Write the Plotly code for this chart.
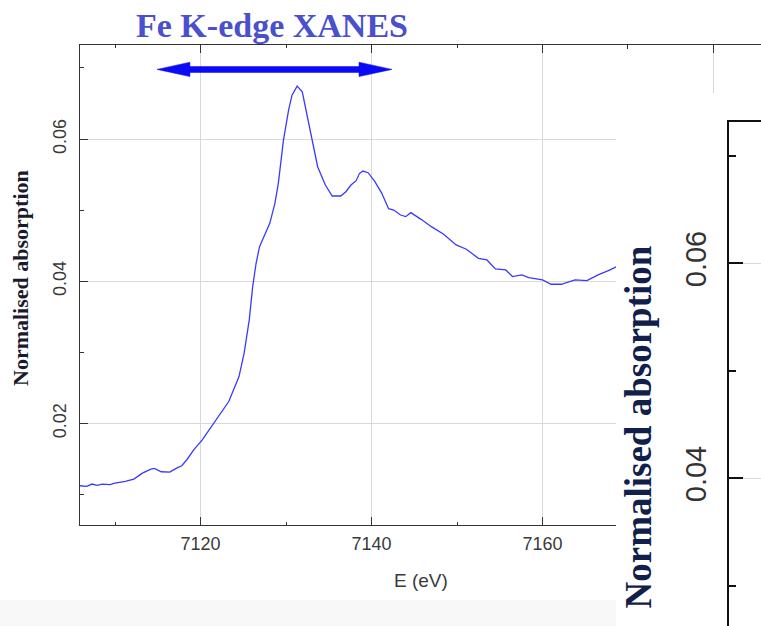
import plotly.graph_objects as go

W, H = 761, 626

# ---- data ----
energy_ev = [7105.9, 7106.7, 7107.3, 7107.9, 7108.5, 7109.4, 7110.0, 7111.2, 7112.2, 7113.2,
             7114.2, 7114.6, 7115.4, 7116.4, 7117.2, 7117.8, 7118.4, 7119.2, 7120.2, 7121.0,
             7122.1, 7123.3, 7124.5, 7125.1, 7125.7, 7126.1, 7126.5, 7126.9, 7127.5, 7128.1,
             7128.7, 7129.1, 7129.7, 7130.3, 7130.7, 7131.3, 7131.9, 7132.5, 7133.1, 7133.7,
             7134.6, 7135.4, 7136.4, 7137.0, 7137.6, 7138.2, 7138.6, 7139.0, 7139.6, 7140.4,
             7141.2, 7142.0, 7142.6, 7143.4, 7144.0, 7144.6, 7145.8, 7147.0, 7148.4, 7149.9,
             7151.1, 7152.5, 7153.5, 7154.5, 7155.7, 7156.5, 7157.6, 7158.4, 7160.0, 7161.0,
             7162.2, 7163.8, 7165.2, 7166.5, 7167.7, 7168.7]
absorption = [0.01124, 0.01115, 0.01148, 0.01130, 0.01148, 0.01140, 0.01162, 0.01185, 0.01218, 0.01302,
              0.01358, 0.01368, 0.01321, 0.01316, 0.01372, 0.01405, 0.01490, 0.01630, 0.01770, 0.01911,
              0.02089, 0.02309, 0.02660, 0.02988, 0.03457, 0.03925, 0.04253, 0.04487, 0.04651, 0.04815,
              0.05096, 0.05377, 0.05986, 0.06407, 0.06618, 0.06745, 0.06665, 0.06314, 0.05986, 0.05611,
              0.05354, 0.05199, 0.05199, 0.05260, 0.05354, 0.05415, 0.05518, 0.05550, 0.05527, 0.05400,
              0.05237, 0.05021, 0.05002, 0.04932, 0.04909, 0.04965, 0.04871, 0.04768, 0.04665, 0.04511,
              0.04450, 0.04323, 0.04300, 0.04173, 0.04159, 0.04066, 0.04089, 0.04052, 0.04019, 0.03958,
              0.03958, 0.04019, 0.04010, 0.04089, 0.04150, 0.04206]

title_text = "Fe K-edge XANES"
y_title = "Normalised absorption"
x_title = "E (eV)"

arrow_e = [7114.9, 7142.4]
arrow_mu = 0.0698

x_range_main = [7105.9, 7168.6]
x_range_strip = [7168.6, 7185.55]
y_range_main = [0.00572, 0.07323]
y_range_strip = [0.06648, 0.07323]
y_range_right = [0.02626, 0.073144]


def fx(px):
    return px / W


def fy(py):
    return 1 - py / H


AX = "#333333"
GRID = "#d9d9d9"
TICKFONT = dict(family="Liberation Sans", size=18, color="#3a3a3a")

fig = go.Figure()
fig.add_trace(go.Scatter(x=energy_ev, y=absorption, mode="lines",
                         line=dict(color="#3a3aff", width=1.3),
                         xaxis="x", yaxis="y", showlegend=False, hoverinfo="skip"))
fig.add_trace(go.Scatter(x=[], y=[], xaxis="x2", yaxis="y2", showlegend=False))
fig.add_trace(go.Scatter(x=[], y=[], xaxis="x3", yaxis="y3", showlegend=False))

fig.update_layout(
    width=W, height=H,
    margin=dict(l=0, r=0, t=0, b=0),
    paper_bgcolor="white", plot_bgcolor="white",
    showlegend=False,
    xaxis=dict(domain=[fx(80), fx(616)], range=x_range_main, anchor="y",
               showline=True, linecolor=AX, linewidth=1, mirror="ticks",
               ticks="inside", ticklen=8, tickcolor=AX, tick0=7100, dtick=20,
               minor=dict(ticks="inside", ticklen=3, tickcolor=AX, dtick=10, tick0=7100, showgrid=False),
               showgrid=True, gridcolor=GRID, gridwidth=1, zeroline=False,
               tickfont=TICKFONT, ticklabelstandoff=2),
    yaxis=dict(domain=[fy(525), fy(45)], range=y_range_main, anchor="x",
               showline=True, linecolor=AX, linewidth=1, mirror=False,
               ticks="inside", ticklen=8, tickcolor=AX, tick0=0, dtick=0.02, tickformat=".2f",
               minor=dict(ticks="inside", ticklen=4, tickcolor=AX, dtick=0.01, tick0=0, showgrid=False),
               showgrid=True, gridcolor=GRID, gridwidth=1, zeroline=False,
               tickangle=-90, tickfont=TICKFONT, ticklabelstandoff=6),
    xaxis2=dict(domain=[fx(616), 1], range=x_range_strip, anchor="y2", side="top",
                showline=True, linecolor=AX, linewidth=1,
                ticks="inside", ticklen=8, tickcolor=AX, tick0=7100, dtick=20,
                minor=dict(ticks="inside", ticklen=4, tickcolor=AX, dtick=10, tick0=7100, showgrid=False),
                showgrid=True, gridcolor=GRID, zeroline=False, showticklabels=False),
    yaxis2=dict(domain=[fy(93), fy(45)], range=y_range_strip, anchor="x2",
                showline=False, showgrid=False, zeroline=False, ticks="", showticklabels=False),
    xaxis3=dict(domain=[fx(729), 1], range=[0, 1], anchor="y3", side="top",
                showline=True, linecolor="#111111", linewidth=1.6,
                ticks="", showgrid=False, zeroline=False, showticklabels=False),
    yaxis3=dict(domain=[0, fy(122)], range=y_range_right, anchor="x3",
                showline=True, linecolor="#111111", linewidth=1.6,
                ticks="inside", ticklen=14, tickwidth=1.6, tickcolor="#111111",
                tick0=0, dtick=0.02, tickformat=".2f",
                minor=dict(ticks="inside", ticklen=7, tickwidth=1.6, tickcolor="#111111",
                           dtick=0.01, tick0=0, showgrid=False),
                showgrid=True, gridcolor=GRID, zeroline=False,
                tickangle=-90, ticklabelstandoff=10,
                tickfont=dict(family="Liberation Sans", size=29, color="#333333")),
)

# double-headed arrow spanning the XANES region
fig.add_shape(type="line", xref="x", yref="y",
              x0=arrow_e[0] + 2.5, x1=arrow_e[1] - 2.5, y0=arrow_mu, y1=arrow_mu,
              line=dict(color="#0a0af5", width=6.5))
for e, sgn in ((arrow_e[0], 1), (arrow_e[1], -1)):
    fig.add_shape(type="path", xref="x", yref="y",
                  xsizemode="pixel", ysizemode="pixel", xanchor=e, yanchor=arrow_mu,
                  path=f"M0,0 L{33 * sgn},7.2 L{33 * sgn},-7.2 Z",
                  fillcolor="#0a0af5", line=dict(color="#0a0af5", width=0.5))

# faint slide background pattern strip at the bottom
fig.add_shape(type="rect", xref="paper", yref="paper", layer="below",
              x0=0, x1=fx(616), y0=0, y1=fy(600),
              fillcolor="#f8f8f8", line=dict(width=0))

fig.add_annotation(text=f"<b>{title_text}</b>", xref="paper", yref="paper",
                   x=fx(271.5), y=fy(25.5), xanchor="center", yanchor="middle", showarrow=False,
                   font=dict(family="Liberation Serif", size=34, color="#4a50cc"))
fig.add_annotation(text=f"<b>{y_title}</b>", xref="paper", yref="paper",
                   x=fx(20), y=fy(278), xanchor="center", yanchor="middle", showarrow=False,
                   textangle=-90,
                   font=dict(family="Liberation Serif", size=22, color="#1a1a2e"))
fig.add_annotation(text=x_title, xref="paper", yref="paper",
                   x=fx(421.5), y=fy(580), xanchor="center", yanchor="middle", showarrow=False,
                   font=dict(family="Liberation Sans", size=19, color="#3a3a3a"))
fig.add_annotation(text=f"<b>{y_title}</b>", xref="paper", yref="paper",
                   x=fx(638), y=fy(244), xanchor="center", yanchor="top", showarrow=False,
                   textangle=-90,
                   font=dict(family="Liberation Serif", size=37, color="#10204a"))

fig.write_html("out.html")
